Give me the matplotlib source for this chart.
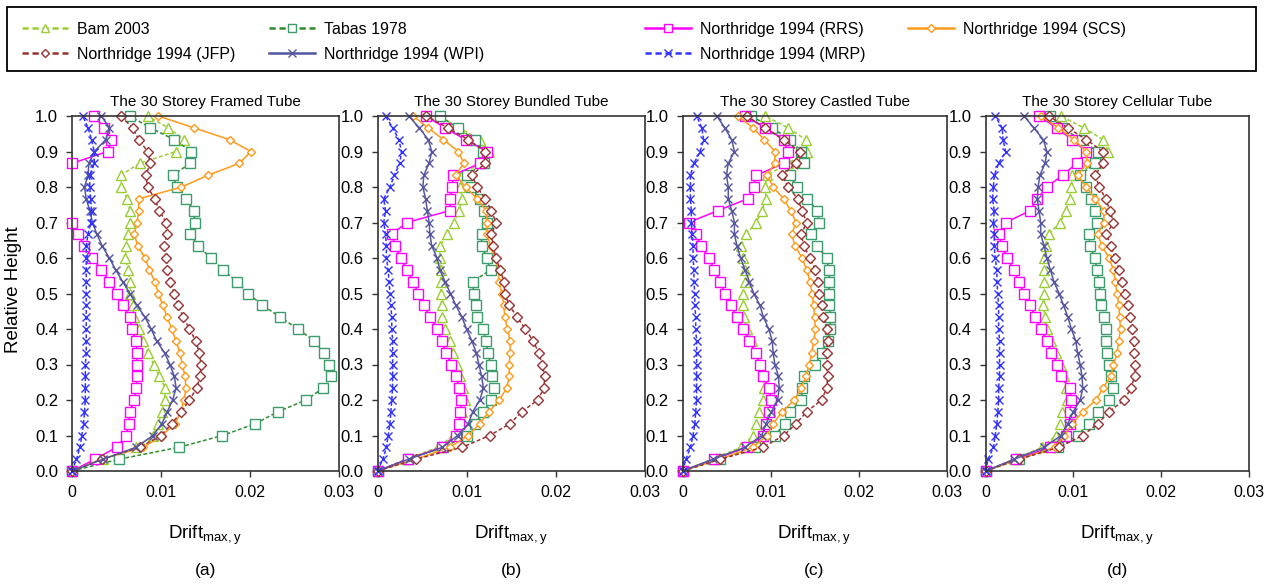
import matplotlib
matplotlib.use("Agg")
import matplotlib.pyplot as plt
import numpy as np
from matplotlib import font_manager
from matplotlib.lines import Line2D
from matplotlib.patches import Rectangle

# relative height of each floor level (ground = 0, roof = 30th storey)
levels = np.linspace(0, 1, 31)

# max inter-storey drift per level, in units of 1e-3, listed bottom -> top
# (a) framed tube
bam_a = [0, 3.5, 7.2, 9.1, 9.7, 10.1, 10.4, 10.5, 9.8, 9.2, 8.5, 8.0, 7.5, 7.0, 6.8, 6.5,
         6.5, 6.3, 6.0, 6.1, 6.3, 6.5, 6.5, 6.2, 5.5, 5.5, 7.6, 11.7, 12.6, 10.8, 8.5]
tabas_a = [0, 5.3, 12.0, 16.9, 20.6, 23.1, 26.3, 28.2, 29.1, 28.9, 28.3, 27.2, 25.4, 23.4, 21.4, 19.8,
           18.5, 17.0, 15.6, 14.2, 13.3, 13.8, 13.7, 12.8, 11.8, 11.3, 13.3, 13.4, 11.5, 8.8, 6.5]
rrs_a = [0, 2.6, 5.0, 6.1, 6.4, 6.5, 7.0, 7.2, 7.3, 7.3, 7.3, 7.2, 6.7, 6.5, 5.7, 5.0,
         4.2, 3.3, 2.3, 1.4, 0.7, 0.0, np.nan, np.nan, np.nan, np.nan, 0.0, 4.0, 4.4, 3.6, 2.5]
scs_a = [0, 3.3, 8.0, 10.1, 11.6, 12.2, 12.6, 12.8, 12.7, 12.4, 12.1, 11.7, 11.2, 10.7, 10.2, 9.7,
         9.3, 8.7, 8.2, 7.4, 7.0, 7.3, 7.5, 7.5, 12.3, 15.3, 18.8, 20.1, 17.7, 13.7, 9.7]
jfp_a = [0, 3.4, 7.6, 10.0, 11.2, 12.3, 13.2, 14.0, 14.4, 14.5, 14.3, 13.9, 13.2, 12.5, 11.9, 11.5,
         11.0, 10.7, 10.6, 10.3, 10.7, 10.6, 9.8, 9.3, 8.5, 8.3, 8.8, 8.5, 7.5, 6.8, 5.5]
wpi_a = [0, 3.5, 7.2, 9.1, 10.1, 10.7, 11.3, 11.7, 11.5, 11.0, 10.4, 9.5, 8.9, 8.2, 7.3, 6.5,
         5.7, 4.9, 4.2, 3.4, 2.8, 2.3, 2.0, 1.6, 1.4, 1.8, 1.9, 2.5, 3.8, 4.2, 3.3]
mrp_a = [0, 0.5, 0.9, 1.1, 1.3, 1.4, 1.5, 1.5, 1.5, 1.5, 1.6, 1.6, 1.6, 1.6, 1.6, 1.6,
         1.6, 1.6, 1.6, 1.6, 1.8, 2.1, 2.2, 2.1, 2.0, 2.0, 2.5, 2.5, 2.2, 1.8, 1.2]

# (b) bundled tube
bam_b = [0, 3.2, 6.8, 8.5, 9.2, 9.5, 9.8, 9.6, 9.3, 8.9, 8.5, 8.2, 7.6, 7.3, 7.2, 7.1,
         7.1, 7.1, 7.0, 7.0, 7.8, 8.6, 9.2, 9.5, 9.3, 9.5, 11.5, 12.5, 11.5, 9.2, 6.9]
tabas_b = [0, 3.4, 7.4, 10.0, 11.0, 11.9, 12.8, 13.1, 12.9, 12.7, 12.4, 12.2, 11.8, 11.2, 11.1, 10.8,
           10.7, 12.7, 12.3, 11.7, 11.7, 12.3, 12.0, 11.5, 10.5, 10.0, 12.0, 11.9, 11.0, 9.0, 7.0]
rrs_b = [0, 3.4, 7.2, 8.8, 9.2, 9.3, 9.4, 9.2, 8.8, 8.3, 7.7, 7.2, 6.7, 5.9, 5.2, 4.6,
         4.0, 3.3, 2.6, 2.0, 1.6, 3.3, 8.1, 8.2, 8.4, 8.5, 11.5, 12.3, 9.9, 7.6, 5.4]
scs_b = [0, 4.3, 8.1, 10.2, 11.5, 12.5, 13.7, 14.5, 14.8, 14.8, 14.9, 14.9, 14.6, 14.3, 14.2, 14.0,
         13.6, 13.6, 13.2, 12.7, 12.3, 12.3, 12.2, 11.2, 9.9, 8.8, 9.7, 9.1, 7.4, 5.7, 4.0]
jfp_b = [0, 4.3, 9.5, 12.6, 14.9, 16.2, 18.0, 18.7, 18.8, 18.5, 18.1, 17.5, 16.6, 15.7, 14.8, 14.3,
         14.2, 13.8, 13.3, 13.0, 12.8, 13.3, 12.8, 12.1, 11.2, 10.6, 12.1, 12.1, 10.2, 7.9, 5.5]
wpi_b = [0, 3.5, 7.3, 9.0, 10.2, 10.7, 11.5, 11.9, 11.7, 11.4, 11.1, 10.6, 10.0, 9.5, 8.8, 8.2,
         7.6, 7.0, 6.7, 6.1, 5.9, 5.8, 5.6, 5.4, 5.1, 5.2, 5.8, 6.1, 5.7, 4.7, 3.5]
mrp_b = [0, 0.6, 1.0, 1.2, 1.4, 1.5, 1.6, 1.7, 1.7, 1.7, 1.7, 1.7, 1.6, 1.6, 1.5, 1.4,
         1.3, 1.2, 1.0, 1.0, 0.9, 0.7, 0.9, 0.7, 1.4, 1.9, 2.5, 2.7, 2.4, 1.7, 0.9]

# (c) castled tube
bam_c = [0, 3.3, 6.7, 8.0, 8.4, 8.7, 9.1, 9.3, 9.1, 8.8, 8.3, 7.9, 7.3, 7.0, 6.9, 6.9,
         7.1, 7.1, 6.9, 6.7, 7.2, 8.4, 9.0, 9.5, 9.4, 9.6, 12.0, 14.2, 14.0, 12.0, 9.4]
tabas_c = [0, 4.3, 8.2, 10.5, 11.6, 12.2, 13.5, 13.6, 13.8, 15.1, 15.8, 16.5, 16.8, 16.8, 16.7, 16.6,
           16.7, 16.6, 16.4, 15.3, 14.6, 15.5, 15.3, 14.2, 13.0, 12.2, 13.8, 13.5, 12.2, 10.2, 7.8]
rrs_c = [0, 3.6, 7.3, 9.1, 9.5, 9.8, 10.1, 9.8, 9.2, 8.8, 8.3, 7.6, 6.9, 6.2, 5.5, 4.8,
         4.3, 3.6, 3.0, 2.1, 1.5, 0.7, 4.0, 7.4, 8.1, 8.4, 11.5, 12.0, 11.5, 9.4, 7.1]
scs_c = [0, 4.2, 8.0, 9.6, 10.3, 11.3, 12.7, 13.5, 14.0, 14.4, 14.7, 14.9, 15.1, 15.0, 14.9, 14.7,
         14.5, 14.1, 13.6, 12.8, 12.4, 12.9, 12.3, 11.5, 10.3, 9.6, 10.5, 10.5, 9.3, 8.0, 6.3]
jfp_c = [0, 4.3, 9.1, 11.5, 12.9, 14.1, 15.8, 16.4, 16.5, 16.4, 16.4, 16.5, 16.4, 16.0, 15.8, 15.5,
         15.4, 15.1, 14.5, 13.8, 13.5, 14.1, 13.6, 13.1, 12.0, 11.3, 12.9, 13.3, 11.5, 9.4, 7.3]
wpi_c = [0, 3.5, 7.1, 9.0, 9.5, 10.1, 10.8, 11.0, 10.9, 10.5, 10.3, 10.2, 9.8, 9.2, 8.8, 8.1,
         7.6, 7.1, 6.6, 6.2, 5.9, 5.9, 5.6, 5.2, 5.2, 5.0, 5.2, 5.9, 5.6, 4.8, 3.9]
mrp_c = [0, 0.4, 0.9, 1.2, 1.4, 1.5, 1.6, 1.6, 1.6, 1.6, 1.6, 1.6, 1.5, 1.5, 1.4, 1.4,
         1.3, 1.3, 1.2, 1.2, 1.1, 1.0, 1.0, 0.9, 0.9, 0.9, 1.3, 2.0, 2.4, 2.2, 1.6]

# (d) cellular tube
bam_d = [0, 3.2, 6.5, 8.0, 8.5, 8.7, 9.3, 9.2, 8.9, 8.6, 8.0, 7.5, 7.0, 6.8, 6.6, 6.7,
         6.7, 6.7, 6.7, 6.9, 7.2, 8.5, 9.2, 9.6, 9.8, 9.9, 12.7, 14.0, 13.4, 11.2, 8.6]
tabas_d = [0, 3.8, 8.3, 10.5, 11.8, 12.8, 14.1, 14.5, 14.3, 14.1, 13.9, 13.8, 13.7, 13.5, 13.2, 13.1,
           12.9, 12.7, 12.5, 11.9, 11.8, 12.7, 12.5, 12.0, 11.5, 10.8, 12.5, 12.8, 10.8, 8.8, 7.4]
rrs_d = [0, 3.5, 7.4, 9.2, 9.6, 9.6, 9.8, 9.6, 8.6, 8.2, 7.5, 7.0, 6.3, 5.7, 5.1, 4.4,
         3.8, 3.2, 2.5, 1.9, 1.5, 2.3, 5.1, 5.9, 7.0, 8.8, 10.4, 11.5, 9.9, 8.1, 6.1]
scs_d = [0, 3.8, 7.9, 9.0, 9.9, 11.1, 12.6, 13.4, 14.3, 14.6, 15.0, 15.2, 15.4, 15.3, 15.2, 15.0,
         14.8, 14.6, 14.1, 13.3, 12.8, 13.5, 13.5, 12.5, 11.5, 10.5, 11.6, 11.5, 10.1, 8.3, 6.3]
jfp_d = [0, 3.8, 8.4, 11.1, 12.8, 14.1, 15.8, 16.6, 17.0, 17.0, 16.9, 16.9, 16.7, 16.5, 16.2, 15.9,
         15.6, 15.2, 14.8, 14.3, 13.8, 14.6, 14.2, 13.7, 13.0, 12.5, 13.4, 13.4, 11.5, 9.4, 7.2]
wpi_d = [0, 3.3, 6.7, 8.6, 9.4, 10.0, 10.8, 11.1, 11.0, 10.8, 10.5, 10.3, 9.8, 9.4, 8.9, 8.4,
         7.8, 7.4, 7.0, 6.7, 6.3, 6.3, 6.1, 5.9, 6.0, 6.2, 6.8, 7.0, 6.6, 5.5, 4.4]
mrp_d = [0, 0.3, 0.9, 1.1, 1.3, 1.4, 1.5, 1.5, 1.6, 1.6, 1.6, 1.6, 1.5, 1.5, 1.5, 1.4,
         1.3, 1.3, 1.1, 1.0, 1.0, 0.9, 1.0, 0.8, 0.9, 1.0, 1.5, 2.3, 2.0, 1.9, 1.1]

series_names = ["Bam 2003", "Tabas 1978", "Northridge 1994 (RRS)", "Northridge 1994 (SCS)",
                "Northridge 1994 (JFP)", "Northridge 1994 (WPI)", "Northridge 1994 (MRP)"]
panel_titles = ["The 30 Storey Framed Tube", "The 30 Storey Bundled Tube",
                "The 30 Storey Castled Tube", "The 30 Storey Cellular Tube"]
panel_tags = ["(a)", "(b)", "(c)", "(d)"]
panel_data = [
    [bam_a, tabas_a, rrs_a, scs_a, jfp_a, wpi_a, mrp_a],
    [bam_b, tabas_b, rrs_b, scs_b, jfp_b, wpi_b, mrp_b],
    [bam_c, tabas_c, rrs_c, scs_c, jfp_c, wpi_c, mrp_c],
    [bam_d, tabas_d, rrs_d, scs_d, jfp_d, wpi_d, mrp_d],
]
x_ticks = [0, 0.01, 0.02, 0.03]
x_ticklabels = ["0", "0.01", "0.02", "0.03"]
y_ticks = np.round(np.arange(0, 1.01, 0.1), 1)

DASH = (0, (2.5, 1.5))
styles = {
    "Bam 2003": dict(color="#9ACD32", ls=DASH, marker="^", ms=6.5, mec="#9ACD32"),
    "Tabas 1978": dict(color="#2E8B2E", ls=DASH, marker="s", ms=6.5, mec="#3C9C6C"),
    "Northridge 1994 (RRS)": dict(color="#FF00FF", ls="-", marker="s", ms=6.5, mec="#FF00FF"),
    "Northridge 1994 (SCS)": dict(color="#FF9A1A", ls="-", marker="D", ms=4.5, mec="#FF9A1A"),
    "Northridge 1994 (JFP)": dict(color="#993333", ls=DASH, marker="D", ms=5, mec="#993333"),
    "Northridge 1994 (WPI)": dict(color="#5555A0", ls="-", marker="x", ms=6, mec="#5555A0"),
    "Northridge 1994 (MRP)": dict(color="#3333FF", ls=DASH, marker="x", ms=6, mec="#3333FF"),
}

names = {f.name for f in font_manager.fontManager.ttflist}
NARROW = "Liberation Sans Narrow" if "Liberation Sans Narrow" in names else "Liberation Sans"
plt.rcParams["font.family"] = ["Liberation Sans", "DejaVu Sans"]

W, H = 1264, 585
fig = plt.figure(figsize=(W / 100, H / 100), dpi=100)

# axes boxes in pixels: left, width (bottom / top shared)
ax_left = [72, 377.5, 682.5, 985.5]
ax_width = [267, 267, 264, 263]
ax_top, ax_bottom = 116, 471

for k in range(4):
    ax = fig.add_axes([ax_left[k] / W, 1 - ax_bottom / H, ax_width[k] / W, (ax_bottom - ax_top) / H])
    for name, vals in zip(series_names, panel_data[k]):
        st = styles[name]
        ax.plot(np.array(vals) / 1000, levels, color=st["color"], ls=st["ls"], lw=1.1,
                marker=st["marker"], ms=st["ms"], mec=st["mec"], mfc="white", mew=1.0,
                clip_on=False)
    ax.set_xlim(0, 0.03)
    ax.set_ylim(0, 1)
    ax.set_xticks(x_ticks)
    ax.set_xticklabels(x_ticklabels, family=[NARROW, "Liberation Sans"], fontsize=11.5)
    ax.set_yticks(y_ticks)
    ax.set_yticklabels([f"{v:.1f}" for v in y_ticks], fontsize=12)
    ax.tick_params(direction="out", length=4, width=1, color="#333333", pad=6)
    for sp in ax.spines.values():
        sp.set_linewidth(1.2)
        sp.set_color("#333333")
    ax.set_title(panel_titles[k], fontsize=11, pad=7)
    cx = (ax_left[k] + ax_width[k] / 2) / W
    fig.text(cx, 1 - 535 / H, r"Drift$_{\mathregular{max,y}}$", ha="center", va="center",
             fontsize=13.5, family=[NARROW, "Liberation Sans"])
    fig.text(cx, 1 - 570 / H, panel_tags[k], ha="center", va="center",
             fontsize=12.5, family=[NARROW, "Liberation Sans"])

fig.text(14 / W, 1 - 290 / H, "Relative Height", rotation=90, ha="center", va="center", fontsize=13.5)

# legend: framed box with four free-standing columns
fig.patches.append(Rectangle((7 / W, 1 - 71 / H), (1256 - 7) / W, (71 - 7) / H,
                             transform=fig.transFigure, fill=False, lw=1.3, ec="black"))
columns = [["Bam 2003", "Northridge 1994 (JFP)"],
           ["Tabas 1978", "Northridge 1994 (WPI)"],
           ["Northridge 1994 (RRS)", "Northridge 1994 (MRP)"],
           ["Northridge 1994 (SCS)"]]
col_x = [22, 269, 645, 908]
for names_col, x0 in zip(columns, col_x):
    handles = []
    for name in names_col:
        st = styles[name]
        handles.append(Line2D([], [], color=st["color"], ls=st["ls"], lw=1.8, marker=st["marker"],
                              ms=st["ms"] - 0.5, mec=st["mec"], mfc="white", mew=1.0))
    fig.legend(handles, names_col, loc="upper left", bbox_to_anchor=(x0 / W, 1 - 22 / H),
               frameon=False, fontsize=11.5, handlelength=2.9, handletextpad=0.55,
               labelspacing=0.6, borderpad=0, borderaxespad=0, numpoints=1)

fig.savefig("out.png", dpi=100)
